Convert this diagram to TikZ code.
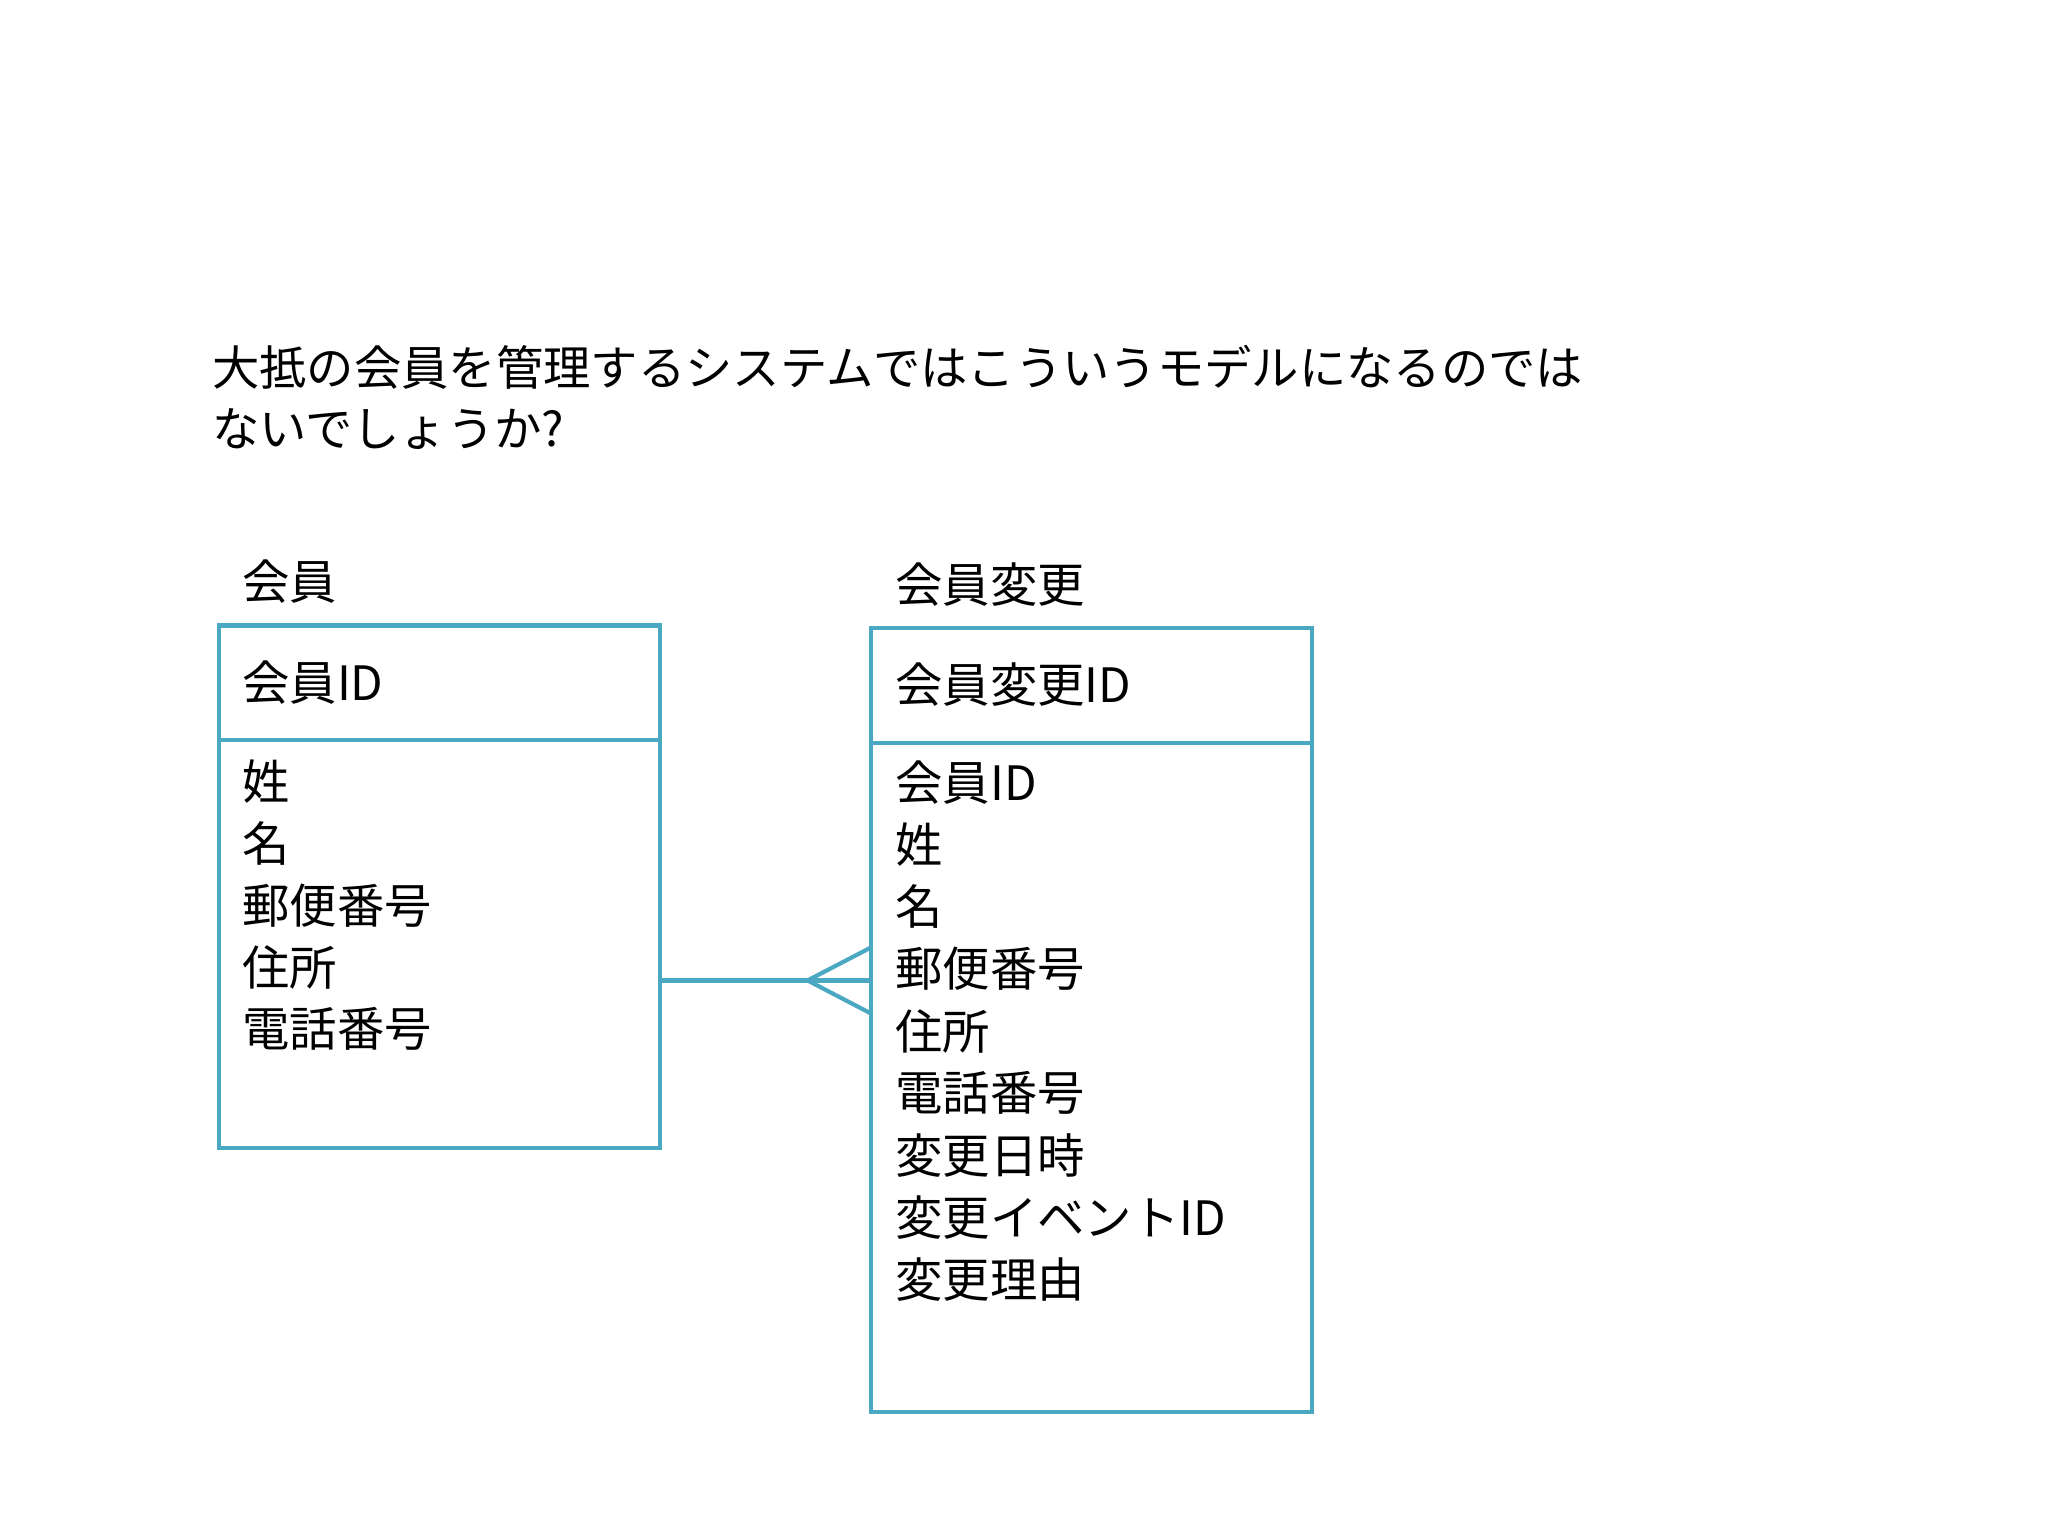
\documentclass[tikz,border=0pt]{standalone}
\usepackage{fontspec}
\setmainfont{Noto Sans CJK JP}
\definecolor{er}{HTML}{4BA8C2}
\begin{document}
\begin{tikzpicture}[x=0.01cm,y=-0.01cm,
  box/.style={draw=er,line width=0.9pt},
  txt/.style={anchor=west,inner sep=0,font=\fontsize{10.2pt}{12pt}\selectfont},
  rel/.style={draw=er,line width=0.9pt}]
\useasboundingbox (0,0) rectangle (1552,1164);
\node[txt] (t1) at (160,278) {大抵の会員を管理するシステムではこういうモデルになるのでは};
\node[txt] (t2) at (160,325) {ないでしょうか?};
% left entity
\node[txt] (lt) at (183,441) {会員};
\draw[box] (166,474) rectangle (500,870);
\draw[box] (166,561) -- (500,561);
\node[txt] (lk) at (183,517) {会員ID};
\foreach \s [count=\i from 0] in {姓,名,郵便番号,住所,電話番号}
  \node[txt] (la\i) at (183,592+47*\i) {\s};
% right entity
\node[txt] (rt) at (678,443) {会員変更};
\draw[box] (660,476) rectangle (994,1070);
\draw[box] (660,563) -- (994,563);
\node[txt] (rk) at (678,519) {会員変更ID};
\foreach \s [count=\i from 0] in {会員ID,姓,名,郵便番号,住所,電話番号,変更日時,変更イベントID,変更理由}
  \node[txt] (ra\i) at (678,593+47.1*\i) {\s};
% relation
\coordinate (a) at (500,743);
\coordinate (b) at (660,743);
\coordinate (f) at (612,743);
\draw[rel] (a) -- (b);
\draw[rel] (660,718) -- (f) -- (660,768);
\end{tikzpicture}
\end{document}
